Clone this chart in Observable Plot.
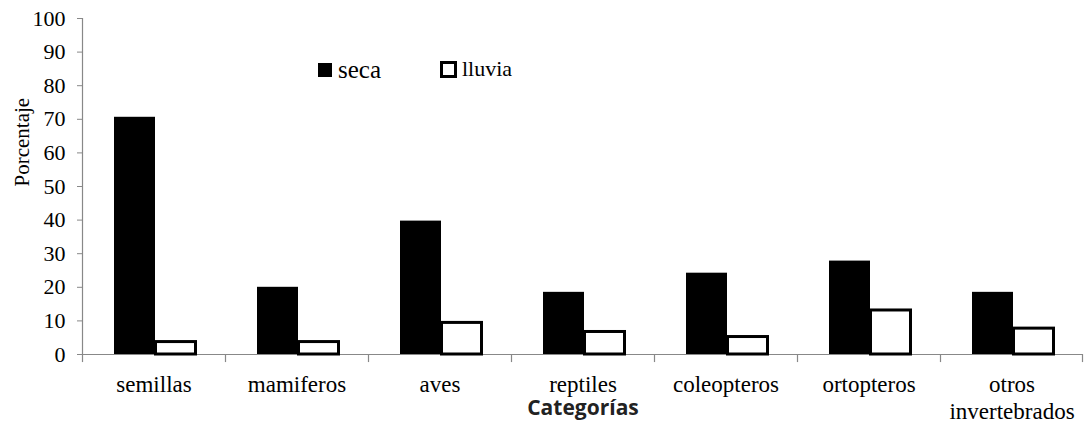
<!DOCTYPE html>
<html>
<head>
<meta charset="utf-8">
<script src="https://cdn.jsdelivr.net/npm/d3@7"></script>
<script src="https://cdn.jsdelivr.net/npm/@observablehq/plot@0.6"></script>
<style>
  body { margin: 0; background: white; }
  #wrap { position: relative; width: 1085px; height: 427px; font-family: "Liberation Serif", "Times New Roman", serif; }
  #wrap svg text { font-family: "Liberation Serif", "Times New Roman", serif; }
  #wrap svg g[aria-label="y-axis tick label"] { font-size: 22px; }
  #wrap svg text.sans, #wrap svg g.sans text { font-family: "Open Sans", "Liberation Sans", sans-serif; }
  .lg { position: absolute; display: flex; align-items: center; color: black; font-family: "Liberation Serif", "Times New Roman", serif; line-height: 1; }
  .sw { box-sizing: border-box; display: inline-block; }
</style>
</head>
<body>
<div id="wrap"></div>
<script>
const categories = ["semillas", "mamiferos", "aves", "reptiles", "coleopteros", "ortopteros", "otros invertebrados"];
const seca = [70.6, 20.0, 39.7, 18.5, 24.2, 27.8, 18.5];
const lluvia = [3.7, 3.7, 9.4, 6.7, 5.2, 13.1, 7.7];
const yTicks = [0, 10, 20, 30, 40, 50, 60, 70, 80, 90, 100];
const seriesNames = ["seca", "lluvia"];

const data = categories.map((c, i) => ({category: c, seca: seca[i], lluvia: lluvia[i]}));

const W = 1085, mL = 82, mR = 2;
const bw = (W - mL - mR) / categories.length;

const chart = Plot.plot({
  width: W,
  height: 427,
  marginLeft: mL,
  marginRight: mR,
  marginTop: 18,
  marginBottom: 73,
  style: {fontSize: "22px", color: "black", background: "white"},
  x: {domain: categories, padding: 0, axis: null, label: null},
  y: {domain: [0, 100], axis: null, label: null},
  marks: [
    Plot.axisY({ticks: yTicks, tickSize: 5, tickPadding: 12, stroke: "#888", fill: "black", label: null, fontSize: 22}),
    Plot.text(["Porcentaje"], {frameAnchor: "left", dx: -60, rotate: -90, fontSize: 21, fill: "black"}),
    Plot.axisX({tickSize: 0, tickPadding: 18, label: null, fontSize: 23, fill: "black", lineHeight: 1.17, tickFormat: d => d.replace(" ", "\n")}),
    Plot.text(["Categorías"], {frameAnchor: "bottom", dy: 60, fontWeight: "bold", fontSize: 21, fill: "#222", className: "sans"}),
    // y axis line
    Plot.ruleX([categories[0]], {dx: -bw / 2, y1: 0, y2: 100, stroke: "#888", strokeWidth: 1.2}),
    // x baseline
    Plot.ruleY([0], {stroke: "#888", strokeWidth: 1.2}),
    // boundary ticks
    Plot.ruleX(categories, {dx: -bw / 2, y1: 0, y2: -2.4, stroke: "#888", strokeWidth: 1.2}),
    Plot.ruleX([categories[categories.length - 1]], {dx: bw / 2 - 1, y1: 0, y2: -2.4, stroke: "#888", strokeWidth: 1.2}),
    Plot.barY(data, {x: "category", y: "seca", fill: "black", insetLeft: 32, insetRight: 70}),
    Plot.barY(data, {x: "category", y: "lluvia", fill: "white", stroke: "black", strokeWidth: 3, insetLeft: 73.5, insetRight: 29.5})
  ]
});

const wrap = document.getElementById("wrap");
wrap.appendChild(chart);

// legend
const lg1 = document.createElement("div");
lg1.className = "lg";
lg1.style.left = "318px"; lg1.style.top = "57px";
lg1.innerHTML = `<span class="sw" style="width:14px;height:14px;background:black;margin-right:6px"></span><span style="font-size:25px">${seriesNames[0]}</span>`;
wrap.appendChild(lg1);
const lg2 = document.createElement("div");
lg2.className = "lg";
lg2.style.left = "440px"; lg2.style.top = "58px";
lg2.innerHTML = `<span class="sw" style="width:17px;height:17px;background:white;border:3.5px solid black;margin-right:5px"></span><span style="font-size:22px">${seriesNames[1]}</span>`;
wrap.appendChild(lg2);
</script>
</body>
</html>
